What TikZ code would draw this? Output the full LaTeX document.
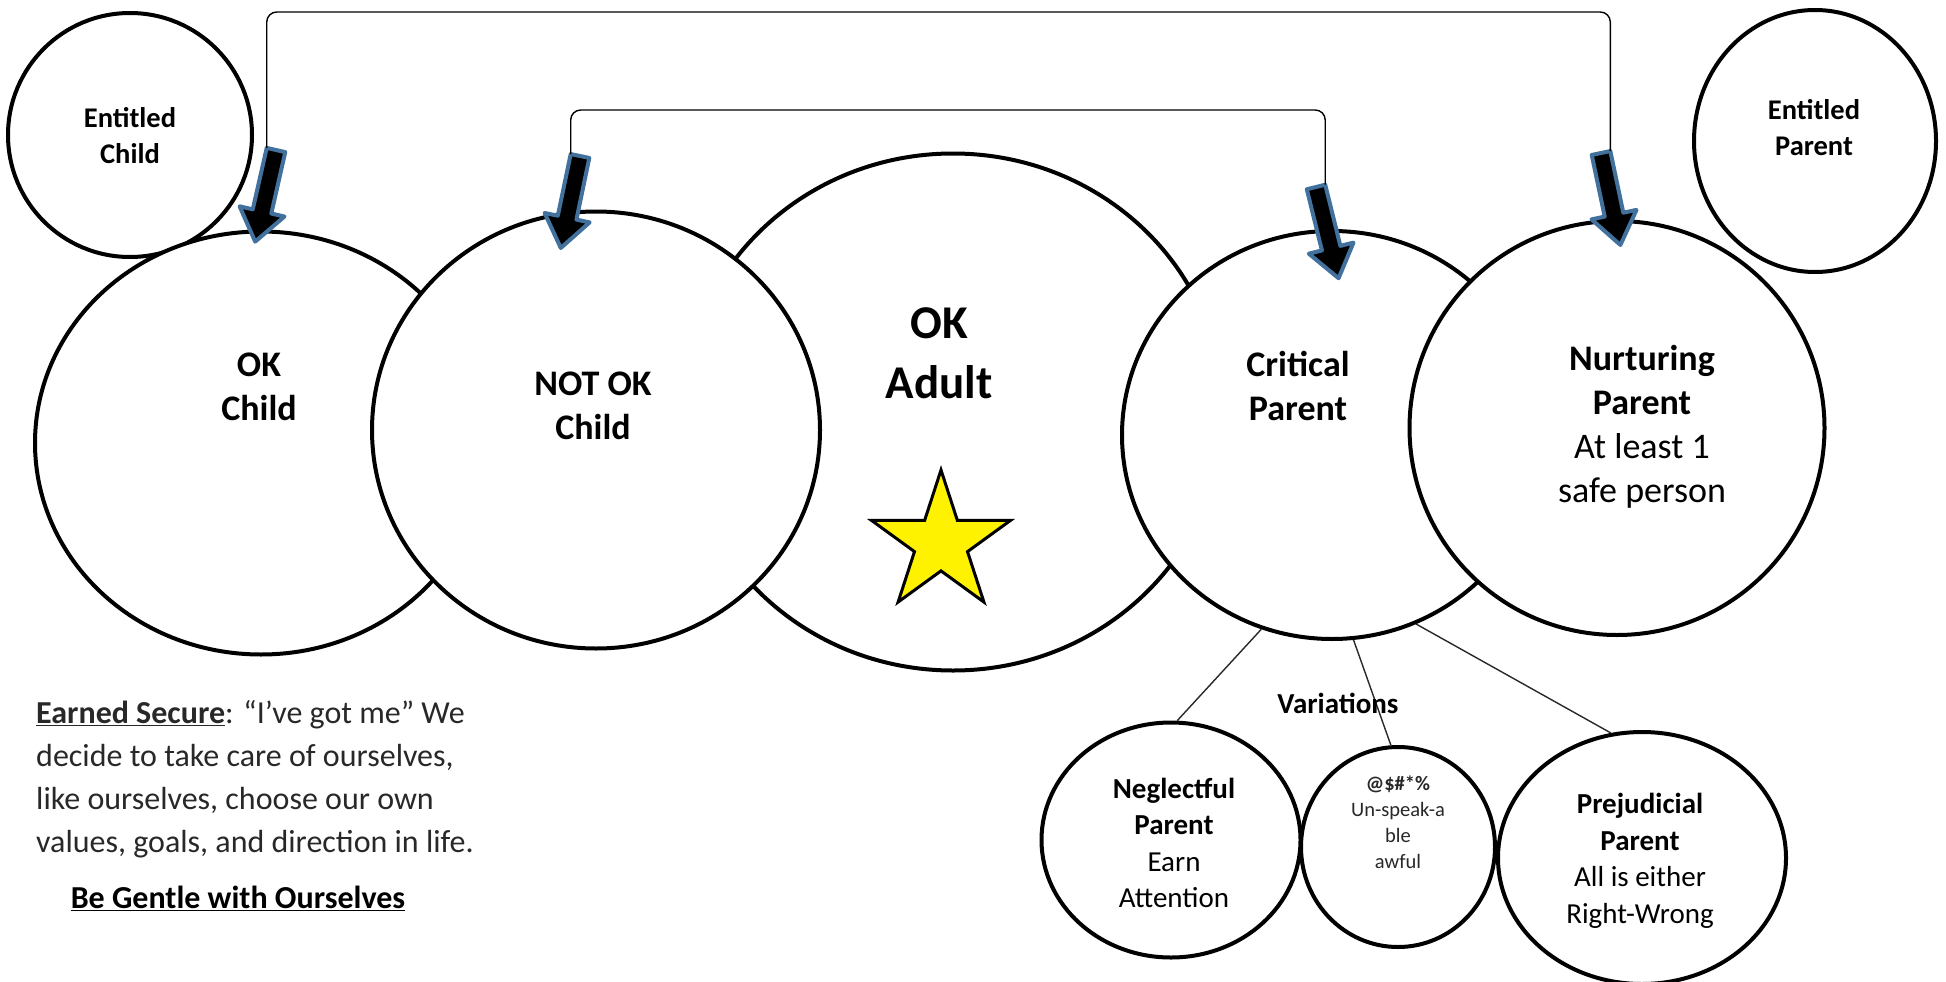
\documentclass[tikz,border=0pt]{standalone}
\usepackage{fontspec}
\setmainfont{Carlito}
\usetikzlibrary{shapes.geometric, calc}

\definecolor{arrowblue}{RGB}{65,113,156}
\definecolor{softblack}{RGB}{40,40,40}

% block arrow: name, tail x, tail y, rotation
\newcommand{\fatarrow}[4]{%
    \begin{scope}[shift={(#2,#3)}, rotate=#4]
        \draw[blockarrow] (-9.5,0) -- (9.5,0) -- (9.5,63) -- (23,63) -- (0,94)
            -- (-23,63) -- (-9.5,63) -- cycle;
        \coordinate (#1l) at (-9.5,0);
        \coordinate (#1r) at (9.5,0);
    \end{scope}
}

\begin{document}
\begin{tikzpicture}[
    x=1pt, y=-1pt,
    bubble/.style={ellipse, draw, line width=4pt, fill=white, inner sep=0pt},
    blockarrow/.style={fill=black, draw=arrowblue, line width=4pt, line join=round},
    bracket/.style={line width=1.4pt, rounded corners=10pt},
    branch/.style={line width=1.4pt, draw=softblack},
    bigtext/.style={align=center, inner sep=0pt, font=\fontsize{36}{44}\selectfont},
    midtext/.style={align=center, inner sep=0pt, font=\fontsize{29}{36.5}\selectfont},
    ]

\useasboundingbox (0,0) rectangle (1946,982);

% small side circles
\node[bubble, minimum width=244, minimum height=244] (entchild) at (130,135) {};
\node[bubble, minimum width=242, minimum height=262] (entparent) at (1815,141) {};

% main row
\node[bubble, minimum width=540, minimum height=517] (okadult) at (953,412) {};
\node[bubble, minimum width=452, minimum height=423] (okchild) at (261,443) {};
\node[bubble, minimum width=448, minimum height=437] (notok) at (596,430) {};
\node[bubble, minimum width=420, minimum height=408] (critical) at (1332,435) {};
\node[bubble, minimum width=415, minimum height=414] (nurturing) at (1617,428) {};

% variations
\node[bubble, minimum width=259, minimum height=235] (neglect) at (1171,840) {};
\node[bubble, minimum width=194, minimum height=200] (unspeak) at (1398,847) {};
\node[bubble, minimum width=288, minimum height=252] (prejudice) at (1642,858) {};

\draw[branch] (critical.-110.7) -- (neglect.87);
\draw[branch] (critical.-84) -- (unspeak.94);
\draw[branch] (critical.-66.4) -- (prejudice.104);

\node[star, star points=5, star point ratio=2.618, draw, fill=yellow,
    line width=3pt, minimum size=146, inner sep=0pt] (adultstar) at (941,543) {};

% labels
\node[midtext, font=\fontsize{28.5}{36}\selectfont\bfseries] (entchildtxt) at (130,136) {Entitled\\Child};
\node[midtext, font=\fontsize{28.5}{36}\selectfont\bfseries] (entparenttxt) at (1814,128) {Entitled\\Parent};
\node[bigtext, font=\fontsize{36}{44}\selectfont\bfseries] (okchildtxt) at (259,387) {OK\\Child};
\node[bigtext, font=\fontsize{36}{44}\selectfont\bfseries] (notoktxt) at (593,406) {NOT OK\\Child};
\node[bigtext, font=\fontsize{47}{60}\selectfont\bfseries] (okadulttxt) at (939,353) {OK\\Adult};
\node[bigtext, font=\fontsize{36}{44}\selectfont\bfseries] (criticaltxt) at (1298,386) {Critical\\Parent};
\node[bigtext] (nurturingtxt) at (1642,427)
    {\textbf{Nurturing}\\\textbf{Parent}\\At least 1\\safe person};
\node[midtext] (neglecttxt) at (1174,843)
    {\textbf{Neglectful}\\\textbf{Parent}\\Earn\\Attention};
\node[align=center, inner sep=0pt, font=\fontsize{20.5}{26}\selectfont, text=softblack] (unspeaktxt) at (1398,822)
    {\textbf{@\$\#*\%}\\Un-speak-a\\ble\\awful};
\node[midtext] (prejudicetxt) at (1640,861)
    {\textbf{Prejudicial}\\\textbf{Parent}\\All is either\\Right-Wrong};
\node[font=\fontsize{29}{36}\selectfont\bfseries, inner sep=0pt] (variations) at (1338,703) {Variations};

\node[anchor=north west, align=left, inner sep=0pt, font=\fontsize{32}{43}\selectfont, text=softblack] (earned) at (36,700)
    {\textbf{\underline{Earned Secure}}: “I’ve got me” We\\decide to take care of ourselves,\\like ourselves, choose our own\\values, goals, and direction in life.};
\node[font=\fontsize{32}{43}\selectfont\bfseries, inner sep=0pt] (gentle) at (238,898) {\underline{Be Gentle with Ourselves}};

% arrows and brackets
\fatarrow{arrA}{276}{150}{-12.8}
\fatarrow{arrB}{580}{156}{-11.8}
\fatarrow{arrC}{1316}{187}{13.9}
\fatarrow{arrD}{1601}{153}{11.9}

\coordinate (outertop) at (0,12);
\coordinate (innertop) at (0,110);
\draw[bracket] (arrAl) -- (arrAl |- outertop) -- (arrDr |- outertop) -- (arrDr);
\draw[bracket] (arrBl) -- (arrBl |- innertop) -- (arrCr |- innertop) -- (arrCr);

\end{tikzpicture}
\end{document}
